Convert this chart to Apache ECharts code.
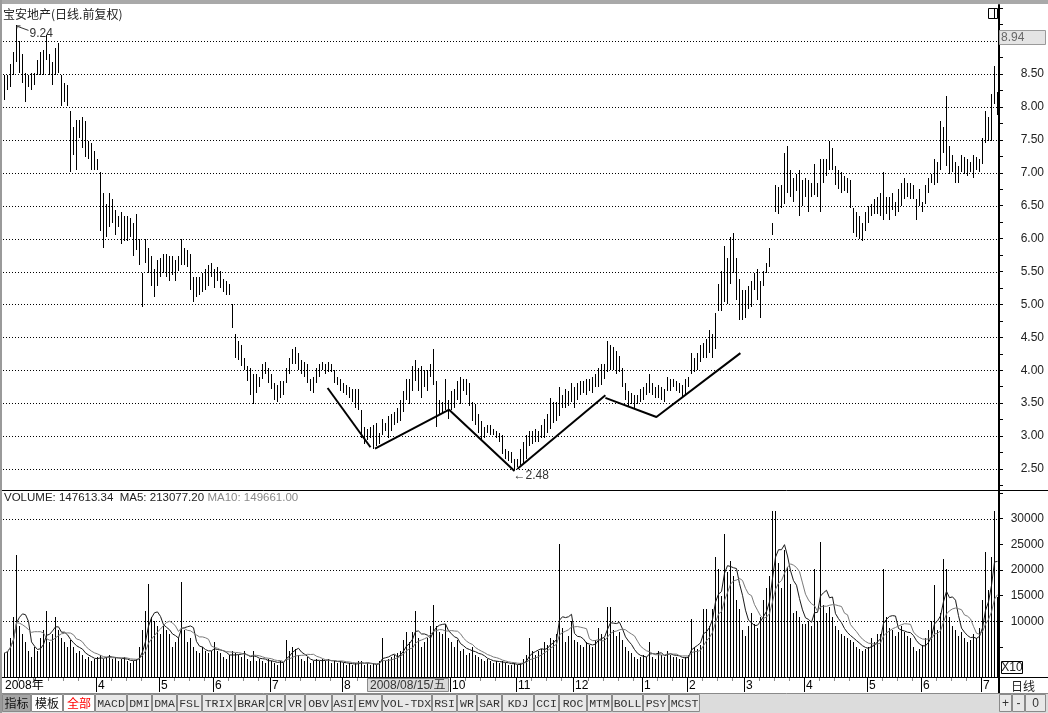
<!DOCTYPE html>
<html><head><meta charset="utf-8">
<script src="https://cdn.jsdelivr.net/npm/echarts@6/dist/echarts.min.js"></script>
<style>html,body{margin:0;padding:0;background:#fff;overflow:hidden}#c{width:1048px;height:713px}</style>
</head><body><div id="c"></div>
<script>
// ---------------- data ----------------
const title = '宝安地产(日线.前复权)';
const highs = [
8.49,8.49,8.65,8.84,9.24,9.00,8.81,8.52,8.49,8.52,
8.52,8.71,8.84,8.87,9.10,8.81,8.68,8.90,8.97,8.49,
8.36,8.33,7.94,7.69,7.81,7.81,7.85,7.78,7.49,7.46,
7.33,7.21,7.01,6.69,6.53,6.69,6.60,6.44,6.34,6.40,
6.34,6.34,6.31,6.24,6.37,5.99,5.47,5.99,5.86,5.73,
5.54,5.67,5.70,5.76,5.76,5.73,5.73,5.67,5.73,5.99,
5.86,5.83,5.76,5.41,5.41,5.41,5.47,5.54,5.60,5.63,
5.54,5.57,5.51,5.38,5.35,5.31,5.00,4.55,4.45,4.39,
4.19,4.06,4.03,3.94,3.94,3.90,4.10,4.13,4.03,3.94,
3.81,3.78,3.84,3.84,4.03,4.19,4.32,4.35,4.26,4.16,
4.13,4.10,3.87,3.90,4.03,4.10,4.13,4.10,4.13,4.10,
4.00,3.90,3.87,3.81,3.78,3.74,3.71,3.71,3.71,3.39,
3.13,3.10,3.13,3.17,3.20,3.04,3.26,3.20,3.30,3.33,
3.36,3.42,3.55,3.68,3.87,3.87,4.06,4.16,4.03,4.06,
4.00,4.00,4.10,4.32,3.84,3.55,3.52,3.87,3.55,3.68,
3.71,3.84,3.90,3.87,3.87,3.81,3.52,3.49,3.33,3.23,
3.13,3.17,3.17,3.10,3.07,3.04,3.01,2.81,2.78,2.75,
2.65,2.65,2.81,2.91,3.01,3.07,3.07,3.10,3.07,3.17,
3.26,3.33,3.58,3.52,3.52,3.74,3.62,3.71,3.68,3.81,
3.74,3.81,3.84,3.84,3.87,3.87,3.90,3.94,4.03,4.10,
4.10,4.45,4.39,4.35,4.29,4.22,4.03,3.81,3.68,3.65,
3.62,3.62,3.71,3.74,3.81,3.94,3.81,3.74,3.78,3.74,
3.71,3.90,3.87,3.87,3.84,3.81,3.78,3.87,3.90,4.26,
4.19,4.26,4.39,4.42,4.48,4.61,4.55,4.87,5.31,5.51,
5.89,5.70,6.02,6.08,5.70,5.38,5.22,5.22,5.28,5.35,
5.47,5.54,5.35,5.51,5.63,5.86,6.24,6.82,6.79,6.82,
7.30,7.40,7.05,6.92,6.98,7.05,6.89,6.92,6.89,6.85,
7.14,6.85,7.21,7.21,7.21,7.49,7.37,7.11,7.05,7.01,
6.95,6.92,6.89,6.47,6.40,6.34,6.24,6.40,6.50,6.53,
6.60,6.63,6.69,7.01,6.63,6.63,6.69,6.56,6.76,6.85,
6.92,6.85,6.85,6.82,6.60,6.76,6.56,6.82,6.92,6.98,
7.21,7.17,7.78,7.69,8.17,7.40,7.27,7.17,7.11,7.27,
7.24,7.21,7.17,7.27,7.24,7.21,7.53,7.94,7.85,8.20,
8.62,8.23];
const lows = [
8.10,8.26,8.30,8.49,8.68,8.52,8.36,8.07,8.30,8.26,
8.33,8.49,8.49,8.49,8.71,8.49,8.33,8.49,8.52,8.01,
8.07,8.01,7.01,7.27,7.05,7.53,7.37,7.24,7.21,7.05,
7.05,7.05,6.12,5.86,6.02,6.18,6.24,6.05,6.18,5.92,
5.96,5.96,6.02,5.73,5.83,5.60,4.96,5.63,5.47,5.28,
5.12,5.28,5.41,5.47,5.41,5.35,5.44,5.35,5.51,5.60,
5.60,5.57,5.22,5.03,5.12,5.15,5.19,5.22,5.28,5.41,
5.25,5.35,5.25,5.19,5.15,5.15,4.64,4.19,4.16,4.06,
4.00,3.84,3.62,3.49,3.65,3.74,3.87,3.94,3.81,3.71,
3.55,3.52,3.58,3.62,3.81,3.94,4.10,4.10,4.00,3.94,
3.90,3.81,3.68,3.65,3.81,3.90,4.00,3.94,3.97,3.97,
3.81,3.78,3.68,3.65,3.62,3.58,3.52,3.42,3.39,2.97,
2.88,2.94,2.97,2.81,2.85,2.88,3.01,3.07,2.97,3.07,
3.17,3.20,3.23,3.36,3.55,3.49,3.68,3.84,3.68,3.58,
3.74,3.68,3.90,3.78,3.13,3.33,3.33,3.39,3.26,3.39,
3.42,3.55,3.49,3.68,3.62,3.46,3.23,3.17,3.04,2.94,
2.97,3.04,3.01,3.01,2.97,2.91,2.72,2.65,2.62,2.59,
2.48,2.53,2.56,2.59,2.65,2.85,2.88,2.91,2.91,2.97,
2.97,3.04,3.10,3.20,3.23,3.30,3.42,3.42,3.46,3.52,
3.42,3.55,3.62,3.65,3.62,3.68,3.65,3.74,3.74,3.78,
3.87,3.97,4.00,4.00,3.94,3.97,3.74,3.55,3.46,3.49,
3.42,3.49,3.52,3.55,3.62,3.65,3.62,3.58,3.58,3.55,
3.52,3.68,3.68,3.74,3.68,3.65,3.58,3.62,3.74,3.94,
3.97,4.00,4.13,4.19,4.19,4.26,4.19,4.32,4.90,4.90,
5.03,5.00,5.31,5.47,5.06,4.77,4.77,4.80,4.93,4.96,
5.22,5.06,4.80,5.28,5.47,5.57,6.05,6.40,6.37,6.47,
6.53,6.69,6.63,6.56,6.72,6.34,6.50,6.63,6.40,6.63,
6.66,6.63,6.40,6.85,6.95,7.05,7.05,6.82,6.76,6.69,
6.72,6.69,6.47,6.08,6.02,5.99,5.96,6.12,6.24,6.34,
6.37,6.37,6.34,6.28,6.37,6.28,6.44,6.34,6.40,6.50,
6.60,6.63,6.60,6.60,6.28,6.50,6.40,6.53,6.69,6.85,
6.82,6.85,7.05,7.30,7.11,6.98,7.01,6.85,6.85,7.01,
6.98,6.95,7.01,6.92,7.05,7.01,7.14,7.46,7.49,7.49,
8.04,7.88];
// volume in axis units (x10)
const volumes = [
3900,4300,6800,10800,23000,9200,7600,6000,4300,3100,
5100,4300,6800,8400,12000,6000,7600,10800,8400,6800,
6000,5100,6400,5100,3900,4300,3500,2700,3100,2300,
2700,3100,3500,2700,3100,3500,2700,3100,2300,2700,
3100,2300,1900,2300,2700,5100,8400,12000,17300,10800,
10000,9200,7600,9200,8400,7600,5100,6000,6800,17700,
8400,6000,6800,5100,4300,3900,5100,4300,3900,4300,
6000,4300,3900,3100,2700,3500,4300,3900,3500,3100,
4300,2700,2300,4300,2300,2700,2300,1900,2700,2300,
1900,1500,2300,1900,6400,4300,5100,4700,3500,2700,
2300,3100,1900,2300,2700,2300,2700,2300,2700,1900,
2300,1900,2300,1900,1500,1900,1500,1900,2300,2300,
1500,1900,1500,1900,1500,2300,6800,2300,2700,3100,
3500,3900,4300,6400,8000,6000,8000,12000,6800,5100,
6000,6800,9200,13200,9200,8000,7600,9600,6800,6000,
5100,6400,4300,4700,3500,3900,5100,3500,3100,2700,
2300,2700,2300,1900,2300,1900,2300,1900,1500,1500,
1900,1500,1900,2700,3500,6800,4300,3500,4300,4700,
6000,5500,6800,6400,7600,25000,8800,6000,7200,10000,
6400,6000,5500,5100,6000,5500,5100,6400,8800,7600,
6800,12800,12800,8400,7200,8000,6400,5100,4300,3900,
3100,2700,3100,3500,3100,6000,3100,2700,4300,3500,
3100,4300,3500,3100,3100,2700,2700,3100,3500,10400,
5100,4700,5500,12400,12400,9200,12400,22500,20100,14900,
27000,19700,21700,18900,14100,12400,8400,7200,9200,11600,
9600,8800,10800,14100,16500,18900,31500,31500,21300,16500,
23800,20500,17300,11600,12000,10800,9600,9600,10000,9200,
20100,10000,25400,13200,11600,12800,10800,9200,8400,7600,
7200,6800,6400,6000,5100,4700,4300,4700,5100,6800,
6000,7600,7600,20100,10800,8800,8400,7200,8000,9200,
8000,7200,6800,5100,4300,4700,5500,6800,8400,10000,
17000,8400,11600,22200,20100,10800,9200,8400,7200,8000,
6800,6000,6400,7600,6800,8800,14100,23400,16100,22600,
31500,14800];
const priceLabels = [2.5,3.0,3.5,4.0,4.5,5.0,5.5,6.0,6.5,7.0,7.5,8.0,8.5];
const priceGridValues = [2.5,3.0,3.5,4.0,4.5,5.0,5.5,6.0,6.5,7.0,7.5,8.0,8.5,9.0];
const volLabels = [10000,15000,20000,25000,30000];
const volGridValues = [10000,20000,30000];
const monthStarts = [0,31,52,70,89,113,149,171,190,213,228,247,267,288,306,326];
const monthNames = ['2008年','4','5','6','7','8','10','11','12','1','2','3','4','5','6','7'];
const cursorDate = '2008/08/15/五';
const cursorPrice = '8.94';
const legendMain = 'VOLUME: 147613.34  MA5: 213077.20';
const legendMA10 = 'MA10: 149661.00';
const peakMark = {i: 4, v: 9.24, text: '9.24'};
const lowMark = {i: 170, v: 2.48, text: '←2.48'};
const trendLines = [
  [[107.7,3.73],[122.0,2.83]],
  [[123.5,2.81],[148.2,3.40],[170.0,2.47]],
  [[170.9,2.50],[200.3,3.62]],
  [[200.3,3.58],[217.3,3.29],[245.3,4.26]]
];
const toolbarNames = ['指标','模板','全部','MACD','DMI','DMA','FSL','TRIX','BRAR','CR','VR','OBV','ASI','EMV','VOL-TDX','RSI','WR','SAR','KDJ','CCI','ROC','MTM','BOLL','PSY','MCST'];
const rightButtons = ['+','-','0'];
const periodLabel = '日线';
const scaleLabel = 'X10';

// ---------------- layout ----------------
const toolbarEdges = [2,31,63,95,127,152,177,202,235,267,285,305,332,355,382,432,457,477,502,534,559,587,612,643,669,700];
const rightEdges = [999,1012,1025,1046];
const FONT = '"Liberation Sans", Arial, sans-serif';
const CJK = '"Noto Sans CJK SC", sans-serif';
const MONO = '"Liberation Mono", monospace';

const N = highs.length;
function movingAvg(arr, n) {
  return arr.map((_, i) => {
    const s = Math.max(0, i - n + 1);
    let t = 0;
    for (let k = s; k <= i; k++) t += arr[k];
    return t / (i - s + 1);
  });
}
const ma5 = movingAvg(volumes, 5);
const ma10 = movingAvg(volumes, 10);

const VMIN = -777, VMAX = 35340;

function vlineItem(params, api) {
  const x = api.value(0);
  const a = api.coord([x, api.value(1)]);
  const b = api.coord([x, api.value(2)]);
  const px = Math.floor(a[0]) + 0.5;
  return {type: 'line', shape: {x1: px, y1: Math.round(a[1]), x2: px, y2: Math.round(b[1])},
          style: {stroke: '#000', lineWidth: 1}};
}

const chart = echarts.init(document.getElementById('c'));
const series = [
  {type: 'custom', xAxisIndex: 0, yAxisIndex: 0, renderItem: vlineItem, z: 5,
   encode: {x: 0, y: [1, 2]}, data: highs.map((h, i) => [i, h, lows[i]])},
  {type: 'custom', xAxisIndex: 1, yAxisIndex: 1, renderItem: vlineItem, z: 5,
   encode: {x: 0, y: [1, 2]}, data: volumes.map((v, i) => [i, v, VMIN])},
  {type: 'line', xAxisIndex: 1, yAxisIndex: 1, data: ma5.map((v, i) => [i, v]), symbol: 'none', z: 6,
   lineStyle: {color: '#1a1a1a', width: 1}, silent: true},
  {type: 'line', xAxisIndex: 1, yAxisIndex: 1, data: ma10.map((v, i) => [i, v]), symbol: 'none', z: 6,
   lineStyle: {color: '#7a7a7a', width: 1}, silent: true}
];
trendLines.forEach(seg => series.push({
  type: 'line', xAxisIndex: 0, yAxisIndex: 0, data: seg, symbol: 'none', z: 7, silent: true,
  lineStyle: {color: '#000', width: 2}
}));

const priceMinor = [];
for (let v = 2.25; v <= 9.5001; v += 0.25) priceMinor.push(+v.toFixed(2));
const volMinor = [5000,10000,15000,20000,25000,30000,35000];

chart.setOption({
  backgroundColor: '#fff',
  animation: false,
  grid: [
    {left: 3, right: 49, top: 5, height: 485},
    {left: 3, right: 49, top: 491, height: 186}
  ],
  xAxis: [
    {type: 'value', gridIndex: 0, min: -0.5, max: N - 0.5, show: false},
    {type: 'value', gridIndex: 1, min: -0.5, max: N - 0.5, show: false}
  ],
  yAxis: [
    {type: 'value', gridIndex: 0, position: 'right', min: 2.18, max: 9.55, splitLine: {show: false},
     axisLine: {show: true, onZero: false, lineStyle: {color: '#000', width: 2}},
     axisTick: {show: true, customValues: priceMinor, length: 4, lineStyle: {color: '#000'}},
     axisLabel: {customValues: priceLabels, formatter: v => Number(v).toFixed(2), align: 'right', margin: 45,
                 color: '#222', fontSize: 12, fontFamily: FONT}},
    {type: 'value', gridIndex: 1, position: 'right', min: VMIN, max: VMAX, splitLine: {show: false},
     axisLine: {show: true, onZero: false, lineStyle: {color: '#000', width: 2}},
     axisTick: {show: true, customValues: volMinor, length: 4, lineStyle: {color: '#000'}},
     axisLabel: {customValues: volLabels, formatter: v => String(v), align: 'right', margin: 45,
                 color: '#222', fontSize: 12, fontFamily: FONT}}
  ],
  series: series
});

// ---------------- overlays (positions via library scales) ----------------
const g = [];
function px(gi, x, y) { return chart.convertToPixel({gridIndex: gi}, [x, y]); }
function hline(y, x1, x2, stroke, dash, z, w) {
  g.push({type: 'line', z: z, silent: true, shape: {x1: x1, y1: y, x2: x2, y2: y},
          style: {stroke: stroke, lineWidth: w || 1, lineDash: dash || null}});
}
function vline(x, y1, y2, stroke, z, w) {
  g.push({type: 'line', z: z, silent: true, shape: {x1: x, y1: y1, x2: x, y2: y2},
          style: {stroke: stroke, lineWidth: w || 1}});
}
function text(t, x, y, font, fill, align, z, rich) {
  g.push({type: 'text', z: z, silent: true,
          style: {text: t, x: x, y: y, font: font, fill: fill, align: align || 'left', verticalAlign: 'middle', rich: rich}});
}
function rect(x, y, w, h, fill, stroke, z) {
  g.push({type: 'rect', z: z, silent: true, shape: {x: x, y: y, width: w, height: h},
          style: {fill: fill, stroke: stroke || null, lineWidth: 1}});
}

// dotted grid lines
priceGridValues.forEach(v => {
  const y = Math.round(px(0, 0, v)[1]) + 0.5;
  hline(y, 3, 998, '#000', [1, 2], 1);
});
volGridValues.forEach(v => {
  const y = Math.round(px(1, 0, v)[1]) + 0.5;
  hline(y, 3, 998, '#000', [1, 2], 1);
});

// frame
rect(0, 0, 1048, 4, '#a9a9a9', null, 50);
rect(0, 0, 2, 713, '#9a9a9a', null, 50);
hline(490.5, 2, 1048, '#000', null, 20);
hline(677.5, 2, 1048, '#000', null, 20);
vline(999, 677, 693, '#000', 20, 2);

// title and top-right icon
text(title, 3, 14, '12px ' + CJK, '#222', 'left', 30);
rect(988.5, 8.5, 9, 10, '#fff', '#000', 30);
vline(994.5, 8.5, 18.5, '#000', 31);

// cursor price box
rect(999.5, 30.5, 46, 14, '#e4e4e4', '#9a9a9a', 30);
text(cursorPrice, 1001, 38, '12px ' + FONT, '#666', 'left', 31);

// peak and low markers
const pk = px(0, peakMark.i, peakMark.v);
g.push({type: 'polyline', z: 30, silent: true,
        shape: {points: [[pk[0] + 4, pk[1] + 0.5], [pk[0] + 0.5, pk[1] + 0.5], [pk[0] + 0.5, pk[1] + 3]]},
        style: {stroke: '#333', lineWidth: 1, fill: null}});
g.push({type: 'line', z: 30, silent: true,
        shape: {x1: pk[0] + 1, y1: pk[1] + 1, x2: pk[0] + 12, y2: pk[1] + 5},
        style: {stroke: '#333', lineWidth: 1}});
text(peakMark.text, pk[0] + 13, pk[1] + 8, '12px ' + FONT, '#333', 'left', 30);
const lw = px(0, lowMark.i, lowMark.v);
text(lowMark.text, lw[0] - 1, lw[1] + 5, '12px ' + FONT, '#333', 'left', 30);

// volume legend
g.push({type: 'text', z: 30, silent: true,
        style: {x: 4, y: 498, verticalAlign: 'middle',
                text: '{a|' + legendMain + '} {b|' + legendMA10 + '}',
                rich: {a: {font: '11.5px ' + FONT, fill: '#222'}, b: {font: '11.5px ' + FONT, fill: '#888'}}}});

// X10 box
rect(1001.5, 661.5, 21, 12, '#fff', '#000', 30);
text(scaleLabel, 1012, 668, '12px ' + FONT, '#222', 'center', 31);

// date row
monthStarts.forEach((m, k) => {
  const x = Math.round(px(0, m - 0.5, 5)[0]);
  if (k > 0) vline(x + 0.5, 678, 692, '#000', 22);
  text(monthNames[k], x + 2, 686, '12px ' + FONT + ', ' + CJK, '#000', 'left', 22);
  const next = k + 1 < monthStarts.length ? monthStarts[k + 1] : N;
  for (let j = m + 5; j < next - 2; j += 5) {
    const xx = Math.round(px(0, j - 0.5, 5)[0]) + 0.5;
    vline(xx, 678, 681, '#8c8c8c', 22);
  }
});
rect(367.5, 678.5, 81, 13, '#dadada', '#8a8a8a', 25);
text(cursorDate, 370, 686, '12px ' + FONT + ', ' + CJK, '#333', 'left', 26);
text(periodLabel, 1023, 686, '12px ' + CJK, '#222', 'center', 26);

// toolbar
rect(2, 693, 1046, 20, '#dcdcdc', null, 40);
hline(693.5, 2, 1048, '#8a8a8a', null, 41);
toolbarNames.forEach((name, k) => {
  const x1 = toolbarEdges[k], x2 = toolbarEdges[k + 1];
  let fill = '#e8e8e8', color = '#333', font = '11.5px ' + MONO;
  if (k === 0) { fill = '#a6a6a6'; color = '#111'; font = '12px ' + CJK; }
  if (k === 1) { fill = '#fff'; color = '#111'; font = '12px ' + CJK; }
  if (k === 2) { fill = '#fff'; color = '#f00'; font = '12px ' + CJK; }
  rect(x1 + 0.5, 694.5, x2 - x1 - 1, 17, fill, '#8a8a8a', 42);
  text(name, (x1 + x2) / 2, 703.5, font, color, 'center', 43);
});
rightButtons.forEach((b, k) => {
  const x1 = rightEdges[k], x2 = rightEdges[k + 1];
  rect(x1 + 0.5, 694.5, x2 - x1 - 1, 17, '#e8e8e8', '#8a8a8a', 42);
  text(b, (x1 + x2) / 2, 703.5, '12px ' + FONT, '#333', 'center', 43);
});

chart.setOption({graphic: {elements: g}});
</script>
</body></html>
